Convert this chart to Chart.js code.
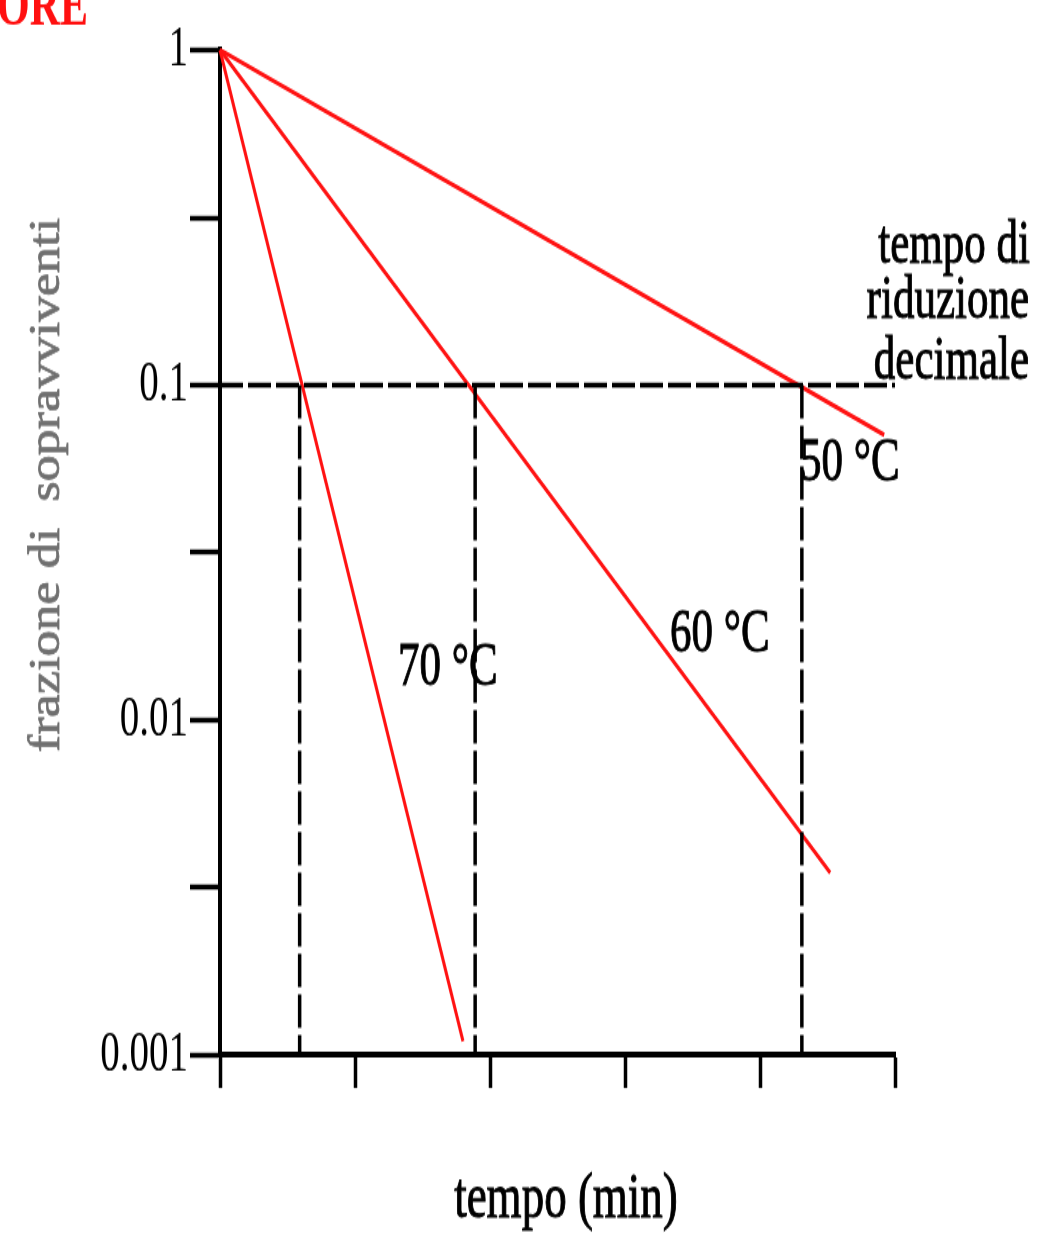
<!DOCTYPE html>
<html lang="it">
<head>
    <meta charset="UTF-8">
    <title>Frazione di sopravviventi</title>
    <style>
        html, body {
            margin: 0;
            padding: 0;
            background: #fff;
            overflow: hidden;
        }
        #chart {
            display: block;
        }
    </style>
</head>
<body>
    <!-- the original picture is squeezed horizontally: draw small, stretch in height -->
    <canvas id="chart" width="1038" height="850" style="width:1038px;height:1233px"></canvas>

    <script src="https://cdn.jsdelivr.net/npm/chart.js"></script>
    <script>
        // values (tempo in min, frazione di sopravviventi)
        const time50 = [0, 4.92];
        const frac50 = [1, 0.071];
        const time60 = [0, 4.52];
        const frac60 = [1, 0.0035];
        const time70 = [0, 1.80];
        const frac70 = [1, 0.0011];
        const dTimes = [4.31, 1.89, 0.59];      // tempo di riduzione decimale
        const dLevel = 0.1;
        const yMin = 0.001;
        const xTicks = [0, 1, 2, 3, 4, 5];
        const yTicks = [0.001, 0.00316, 0.01, 0.0316, 0.1, 0.316, 1];
        const yTickLabels = ['0.001', '', '0.01', '', '0.1', '', '1'];

        const S = 1233 / 850;                   // vertical stretch of the canvas
        const cy = y => y / S;                  // reference px -> canvas px

        const pts = (xs, ys) => xs.map((x, i) => ({ x: x, y: ys[i] }));

        const redLine = (label, xs, ys) => ({
            label: label,
            data: pts(xs, ys),
            borderColor: '#ff1212',
            borderWidth: 3,
            showLine: true,
            pointRadius: 0,
            clip: false
        });

        const dashed = data => ({
            data: data,
            borderColor: '#000',
            borderWidth: 3.5,
            borderDash: [23, 5],
            showLine: true,
            pointRadius: 0,
            clip: false
        });

        const datasets = [
            dashed([{ x: xTicks[0], y: dLevel }, { x: xTicks[xTicks.length - 1], y: dLevel }]),
            ...dTimes.map(t => dashed([{ x: t, y: dLevel }, { x: t, y: yMin }])),
            redLine('50 °C', time50, frac50),
            redLine('60 °C', time60, frac60),
            redLine('70 °C', time70, frac70)
        ];

        const serif = '"Liberation Serif", "Times New Roman", serif';

        const labels = [
            { text: '70 °C', x: 398, y: 685, align: 'left' },
            { text: '60 °C', x: 670, y: 652, align: 'left' },
            { text: '50 °C', x: 800, y: 480, align: 'left' },
            { text: 'tempo di', x: 1030, y: 263, align: 'right' },
            { text: 'riduzione', x: 1029, y: 318, align: 'right' },
            { text: 'decimale', x: 1029, y: 378, align: 'right' }
        ];

        // text drawn a little heavier, like the blurred original
        const heavyText = (ctx, text, x, y, maxWidth) => {
            ctx.fillText(text, x, y, maxWidth);
            ctx.strokeText(text, x, y, maxWidth);
        };

        const textPlugin = {
            id: 'texts',
            afterDraw(chart) {
                const ctx = chart.ctx;
                ctx.save();
                ctx.fillStyle = '#000';
                ctx.strokeStyle = '#000';
                ctx.lineWidth = 0.8;
                ctx.textBaseline = 'alphabetic';
                ctx.font = '43px ' + serif;
                labels.forEach(l => {
                    ctx.textAlign = l.align;
                    heavyText(ctx, l.text, l.x, cy(l.y));
                });

                // x axis title
                ctx.textAlign = 'center';
                ctx.font = '45px ' + serif;
                heavyText(ctx, 'tempo (min)', 566, cy(1217));

                // y axis title, grey, rotated
                ctx.save();
                ctx.translate(59, cy(485));
                ctx.rotate(-Math.PI / 2);
                ctx.fillStyle = '#707070';
                ctx.strokeStyle = '#707070';
                ctx.font = '44px ' + serif;
                heavyText(ctx, 'frazione di  sopravviventi', 0, 0, cy(534));
                ctx.restore();

                // cut-off red heading in the corner
                ctx.textAlign = 'right';
                ctx.fillStyle = '#ff1010';
                ctx.font = 'bold 42px ' + serif;
                ctx.fillText('ORE', 88, cy(24));
                ctx.restore();
            }
        };

        new Chart(document.getElementById('chart'), {
            type: 'scatter',
            data: { datasets: datasets },
            plugins: [textPlugin],
            options: {
                responsive: false,
                animation: false,
                events: [],
                layout: {
                    padding: { left: 0, right: 1038 - 895, top: cy(50), bottom: 0 }
                },
                plugins: {
                    legend: { display: false },
                    tooltip: { enabled: false }
                },
                scales: {
                    x: {
                        type: 'linear',
                        min: xTicks[0],
                        max: xTicks[xTicks.length - 1],
                        afterBuildTicks: scale => {
                            scale.ticks = xTicks.map(v => ({ value: v }));
                        },
                        afterFit: scale => {
                            scale.height = 850 - cy(1055);
                        },
                        ticks: { display: false },
                        grid: {
                            drawOnChartArea: false,
                            drawTicks: true,
                            tickLength: cy(33),
                            tickWidth: 3.5,
                            tickColor: '#000'
                        },
                        border: { display: true, color: '#000', width: 4 }
                    },
                    y: {
                        type: 'logarithmic',
                        min: yMin,
                        max: 1,
                        afterBuildTicks: scale => {
                            scale.ticks = yTicks.map(v => ({ value: v }));
                        },
                        afterFit: scale => {
                            scale.width = 220;
                        },
                        ticks: {
                            autoSkip: false,
                            padding: 2,
                            color: '#000',
                            font: { family: serif, size: 39 },
                            callback: (value, index) => yTickLabels[index]
                        },
                        grid: {
                            drawOnChartArea: false,
                            drawTicks: true,
                            tickLength: 30,
                            tickWidth: 3.5,
                            tickColor: '#000'
                        },
                        border: { display: true, color: '#000', width: 4 }
                    }
                }
            }
        });
    </script>
</body>
</html>
